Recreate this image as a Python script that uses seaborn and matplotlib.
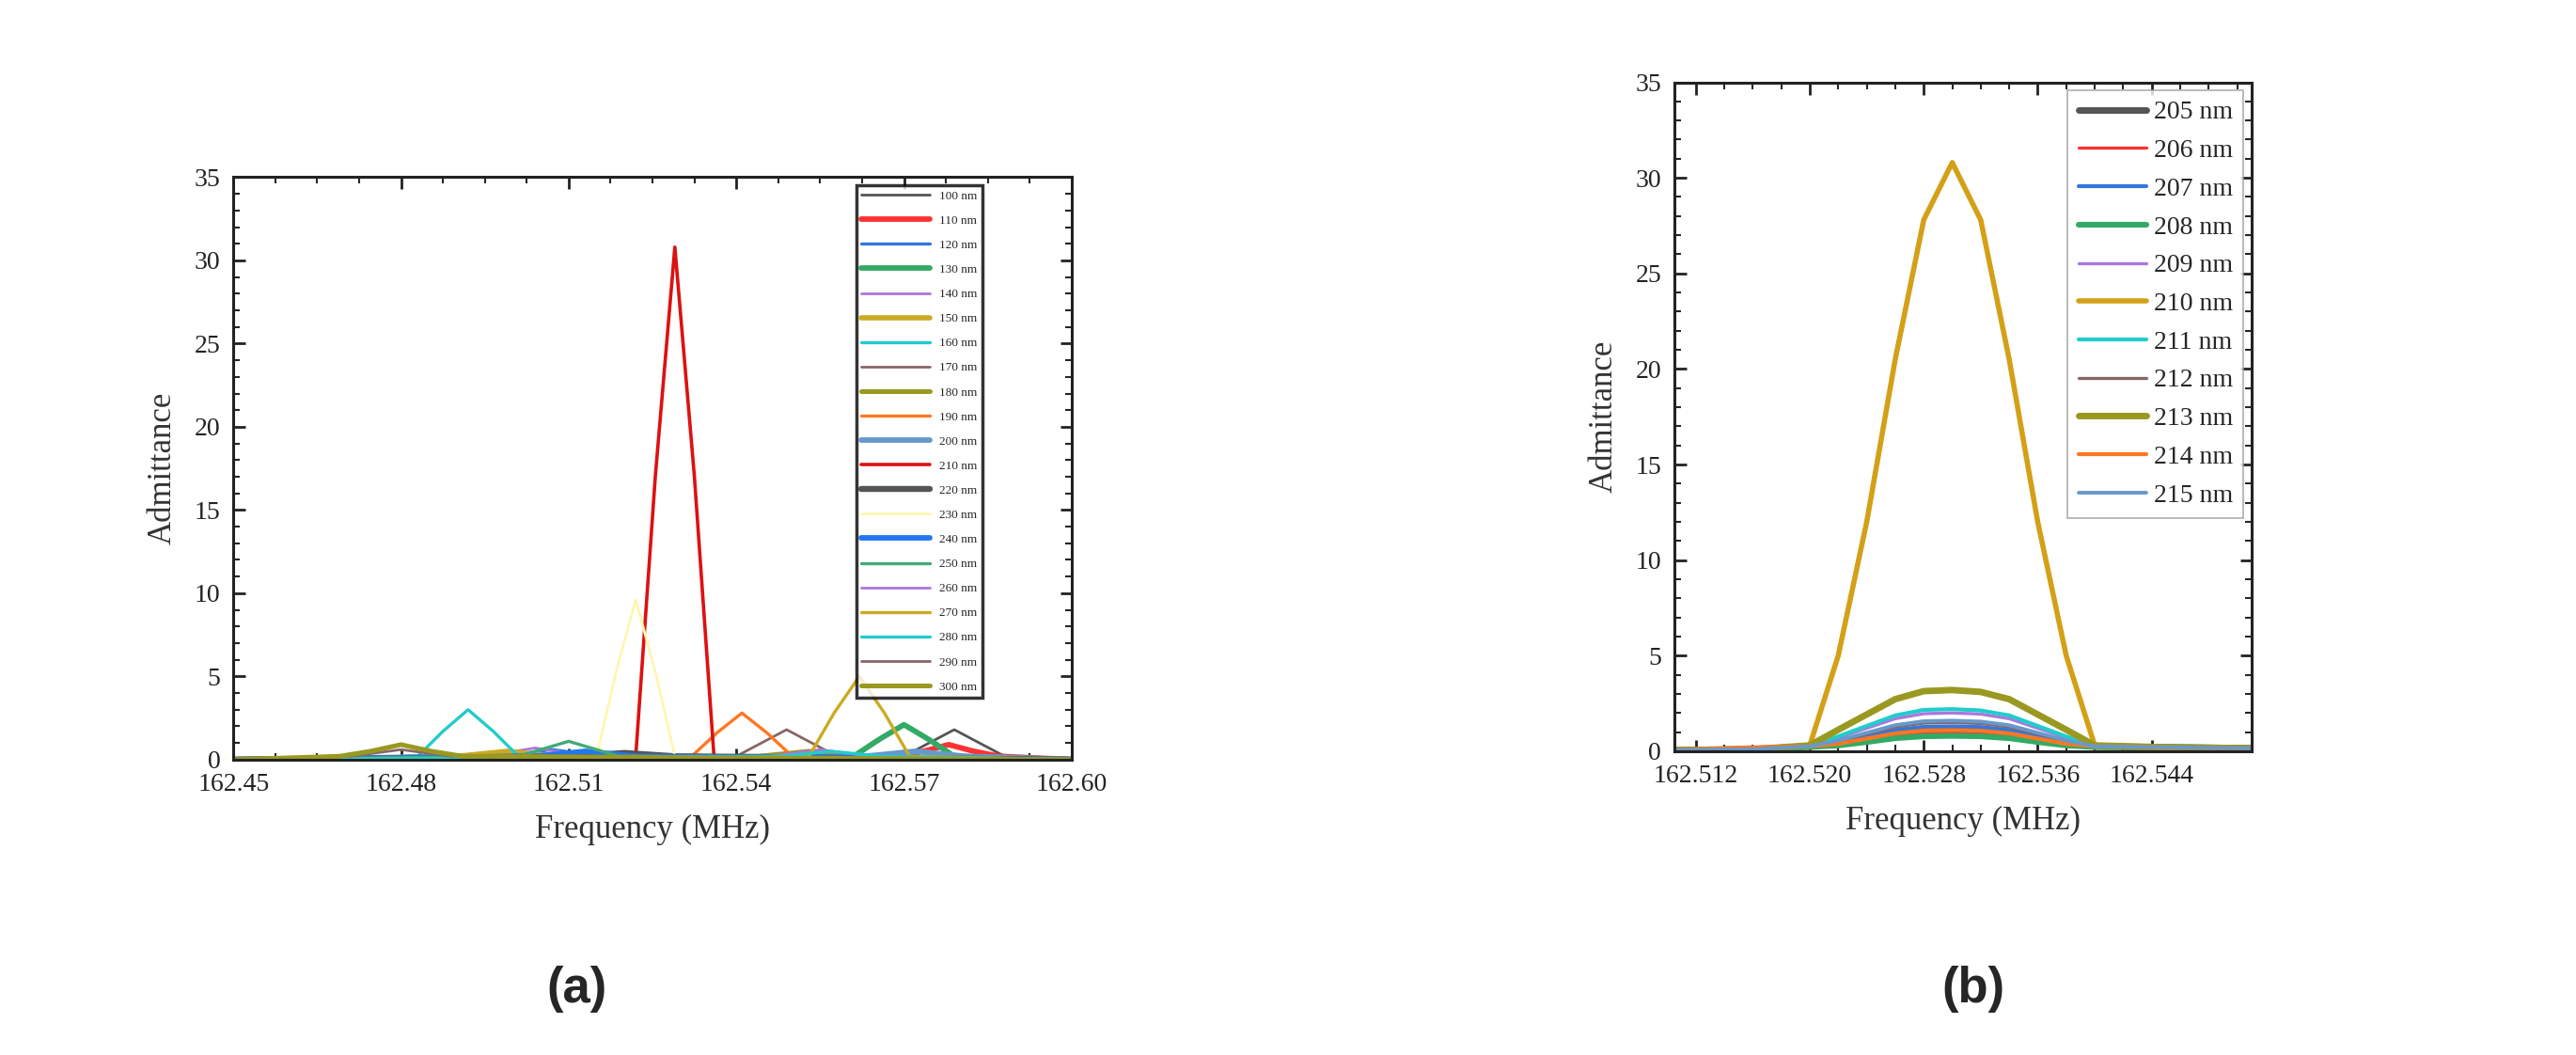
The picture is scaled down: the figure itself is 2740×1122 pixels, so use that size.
import matplotlib
matplotlib.use("Agg")
import matplotlib.pyplot as plt
import seaborn as sns

sns.set_theme(style="ticks")
plt.rcParams['font.family'] = ['Liberation Serif', 'DejaVu Serif']

# ---------------- Panel (a) data ----------------
labels_a = [f"{v} nm" for v in range(100, 301, 10)]
colors_a = ["#555555", "#ff3333", "#3377dd", "#33aa66", "#aa77dd", "#ccaa22", "#22cccc",
            "#886666", "#999922", "#ff7722", "#6699cc", "#dd1111", "#555555", "#fff6b0",
            "#2277ee", "#44aa77", "#aa77dd", "#ccaa22", "#22cccc", "#886666", "#999922"]
widths_a = [2.0, 4.2, 2.4, 4.2, 2.0, 4.0, 2.4, 2.0, 3.6, 2.4, 4.2, 2.6, 4.6, 2.0,
            4.2, 2.4, 2.0, 2.4, 2.4, 2.0, 3.6]
x_a = [
    [162.45, 162.570, 162.5745, 162.579, 162.5835, 162.588, 162.60],
    [162.45, 162.569, 162.5735, 162.578, 162.5825, 162.587, 162.60],
    [162.45, 162.498, 162.5025, 162.507, 162.5115, 162.516, 162.60],
    [162.45, 162.561, 162.5655, 162.570, 162.5745, 162.579, 162.60],
    [162.45, 162.495, 162.4995, 162.504, 162.5085, 162.513, 162.60],
    [162.45, 162.490, 162.4945, 162.499, 162.5035, 162.508, 162.60],
    [162.45, 162.483, 162.4875, 162.492, 162.4965, 162.501, 162.60],
    [162.45, 162.540, 162.5445, 162.549, 162.5535, 162.558, 162.60],
    [162.45, 162.544, 162.5485, 162.553, 162.5575, 162.562, 162.60],
    [162.45, 162.532, 162.5365, 162.541, 162.5455, 162.550, 162.60],
    [162.45, 162.563, 162.5675, 162.572, 162.5765, 162.581, 162.60],
    [162.45, 162.522, 162.5255, 162.529, 162.5325, 162.536, 162.60],
    [162.45, 162.511, 162.5155, 162.520, 162.5245, 162.529, 162.60],
    [162.45, 162.515, 162.5185, 162.522, 162.5255, 162.529, 162.60],
    [162.45, 162.504, 162.5085, 162.513, 162.5175, 162.522, 162.60],
    [162.45, 162.501, 162.5055, 162.510, 162.5145, 162.519, 162.60],
    [162.45, 162.546, 162.5505, 162.555, 162.5595, 162.564, 162.60],
    [162.45, 162.553, 162.5575, 162.562, 162.5665, 162.571, 162.60],
    [162.45, 162.548, 162.5525, 162.557, 162.5615, 162.566, 162.60],
    [162.45, 162.471, 162.4755, 162.480, 162.4845, 162.489, 162.60],
    [162.45, 162.469, 162.4745, 162.480, 162.4855, 162.491, 162.60],
]
y_a = [
    [0.0, 0.2, 1.0, 1.8, 1.0, 0.2, 0.0],
    [0.0, 0.2, 0.5, 0.9, 0.5, 0.2, 0.0],
    [0.0, 0.2, 0.4, 0.6, 0.4, 0.2, 0.0],
    [0.0, 0.2, 1.2, 2.1, 1.2, 0.2, 0.0],
    [0.0, 0.2, 0.45, 0.7, 0.45, 0.2, 0.0],
    [0.0, 0.2, 0.35, 0.5, 0.35, 0.2, 0.0],
    [0.0, 0.2, 1.7, 3.0, 1.7, 0.2, 0.0],
    [0.0, 0.2, 1.0, 1.8, 1.0, 0.2, 0.0],
    [0.0, 0.2, 0.35, 0.5, 0.35, 0.2, 0.0],
    [0.0, 0.2, 1.6, 2.8, 1.6, 0.2, 0.0],
    [0.0, 0.2, 0.35, 0.5, 0.35, 0.2, 0.0],
    [0.0, 0.2, 17.0, 30.8, 17.0, 0.2, 0.0],
    [0.0, 0.2, 0.3, 0.4, 0.3, 0.2, 0.0],
    [0.0, 0.2, 5.3, 9.6, 5.3, 0.2, 0.0],
    [0.0, 0.2, 0.35, 0.5, 0.35, 0.2, 0.0],
    [0.0, 0.2, 0.65, 1.1, 0.65, 0.2, 0.0],
    [0.0, 0.2, 0.4, 0.6, 0.4, 0.2, 0.0],
    [0.0, 0.2, 2.8, 5.0, 2.8, 0.2, 0.0],
    [0.0, 0.2, 0.35, 0.5, 0.35, 0.2, 0.0],
    [0.0, 0.2, 0.4, 0.6, 0.4, 0.2, 0.0],
    [0.0, 0.2, 0.5, 0.9, 0.5, 0.2, 0.0],
]
xticks_a = [162.45, 162.48, 162.51, 162.54, 162.57, 162.60]
xticklabels_a = ["162.45", "162.48", "162.51", "162.54", "162.57", "162.60"]

# ---------------- Panel (b) data ----------------
labels_b = [f"{v} nm" for v in range(205, 216)]
colors_b = ["#555555", "#ff3333", "#3377dd", "#33aa66", "#aa77dd", "#d4a017",
            "#22cccc", "#886666", "#999922", "#ff7722", "#6699cc"]
widths_b = [5.0, 2.4, 3.0, 4.4, 2.4, 4.0, 3.0, 2.4, 5.0, 3.0, 2.8]
x_b = [162.5105, 162.516, 162.520, 162.522, 162.524, 162.526, 162.528, 162.530,
       162.532, 162.534, 162.536, 162.538, 162.540, 162.545, 162.551]
y_b = [
    [0.05, 0.1, 0.25, 0.42, 0.72, 1.02, 1.18, 1.2, 1.16, 1.02, 0.72, 0.42, 0.25, 0.2, 0.15],
    [0.05, 0.1, 0.25, 0.35, 0.6, 0.85, 0.98, 1.0, 0.97, 0.85, 0.6, 0.35, 0.25, 0.2, 0.15],
    [0.05, 0.1, 0.25, 0.45, 0.78, 1.1, 1.27, 1.3, 1.26, 1.1, 0.78, 0.45, 0.25, 0.2, 0.15],
    [0.05, 0.1, 0.22, 0.3, 0.48, 0.68, 0.78, 0.8, 0.78, 0.68, 0.48, 0.3, 0.22, 0.2, 0.18],
    [0.05, 0.1, 0.25, 0.7, 1.2, 1.7, 1.96, 2.0, 1.94, 1.7, 1.2, 0.7, 0.25, 0.2, 0.15],
    [0.05, 0.1, 0.3, 5.0, 12.0, 20.5, 27.8, 30.8, 27.8, 20.5, 12.0, 5.0, 0.3, 0.2, 0.15],
    [0.05, 0.1, 0.25, 0.77, 1.32, 1.87, 2.16, 2.2, 2.13, 1.87, 1.32, 0.77, 0.25, 0.2, 0.15],
    [0.05, 0.1, 0.25, 0.52, 0.9, 1.27, 1.47, 1.5, 1.45, 1.27, 0.9, 0.52, 0.25, 0.2, 0.15],
    [0.05, 0.1, 0.3, 1.12, 1.92, 2.72, 3.14, 3.2, 3.1, 2.72, 1.92, 1.12, 0.3, 0.2, 0.15],
    [0.05, 0.2, 0.25, 0.38, 0.66, 0.93, 1.08, 1.1, 1.07, 0.93, 0.66, 0.38, 0.25, 0.2, 0.15],
    [0.05, 0.1, 0.25, 0.56, 0.96, 1.36, 1.57, 1.6, 1.55, 1.36, 0.96, 0.56, 0.25, 0.2, 0.15],
]
xticks_b = [162.512, 162.520, 162.528, 162.536, 162.544]
xticklabels_b = ["162.512", "162.520", "162.528", "162.536", "162.544"]
yticks = [0, 5, 10, 15, 20, 25, 30, 35]

fig = plt.figure(figsize=(27.4, 11.22), dpi=100)
ax_a = fig.add_axes([0.0906, 0.280, 0.3254, 0.552])
ax_b = fig.add_axes([0.650, 0.288, 0.224, 0.634])

for xs, ys, c, w, lab in zip(x_a, y_a, colors_a, widths_a, labels_a):
    sns.lineplot(x=xs, y=ys, ax=ax_a, color=c, linewidth=w, label=lab, sort=False)
for ys, c, w, lab in zip(y_b, colors_b, widths_b, labels_b):
    sns.lineplot(x=x_b, y=ys, ax=ax_b, color=c, linewidth=w, label=lab, sort=False)

for ax in (ax_a, ax_b):
    ax.set_ylim(0, 35)
    ax.set_yticks(yticks)
    ax.tick_params(axis='both', labelsize=20, direction='in', length=9, width=2,
                   top=True, right=True, colors='#222222', pad=10)
    ax.minorticks_on()
    ax.tick_params(which='minor', direction='in', length=5, width=1.5, top=True, right=True)
    ax.set_ylabel("Admittance", fontsize=25, color='#333333', labelpad=12)
    ax.set_xlabel("Frequency (MHz)", fontsize=25, color='#333333', labelpad=14)
    for s in ax.spines.values():
        s.set_linewidth(2.2)
        s.set_color('#222222')

ax_a.set_xlim(162.45, 162.60)
ax_a.set_xticks(xticks_a)
ax_a.set_xticklabels(xticklabels_a)
ax_b.set_xlim(162.5105, 162.551)
ax_b.set_xticks(xticks_b)
ax_b.set_xticklabels(xticklabels_b)

la = ax_a.legend(loc='upper left', fontsize=9.5, frameon=True, fancybox=False,
                 edgecolor='black', handlelength=5.5, labelspacing=1.05,
                 bbox_to_anchor=(0.74, 0.99), borderaxespad=0.2)
la.get_frame().set_linewidth(2.5)
lb = ax_b.legend(loc='upper right', fontsize=20, frameon=True, fancybox=False,
                 edgecolor='#999999', handlelength=2.6, labelspacing=0.55,
                 borderaxespad=0.3, handletextpad=0.3)
lb.get_frame().set_linewidth(1.2)

fig.text(0.224, 0.04, "(a)", fontsize=38, fontweight='bold', ha='center', va='bottom',
         family=['Liberation Sans', 'DejaVu Sans'])
fig.text(0.766, 0.04, "(b)", fontsize=38, fontweight='bold', ha='center', va='bottom',
         family=['Liberation Sans', 'DejaVu Sans'])

fig.savefig("out.png", dpi=100)
